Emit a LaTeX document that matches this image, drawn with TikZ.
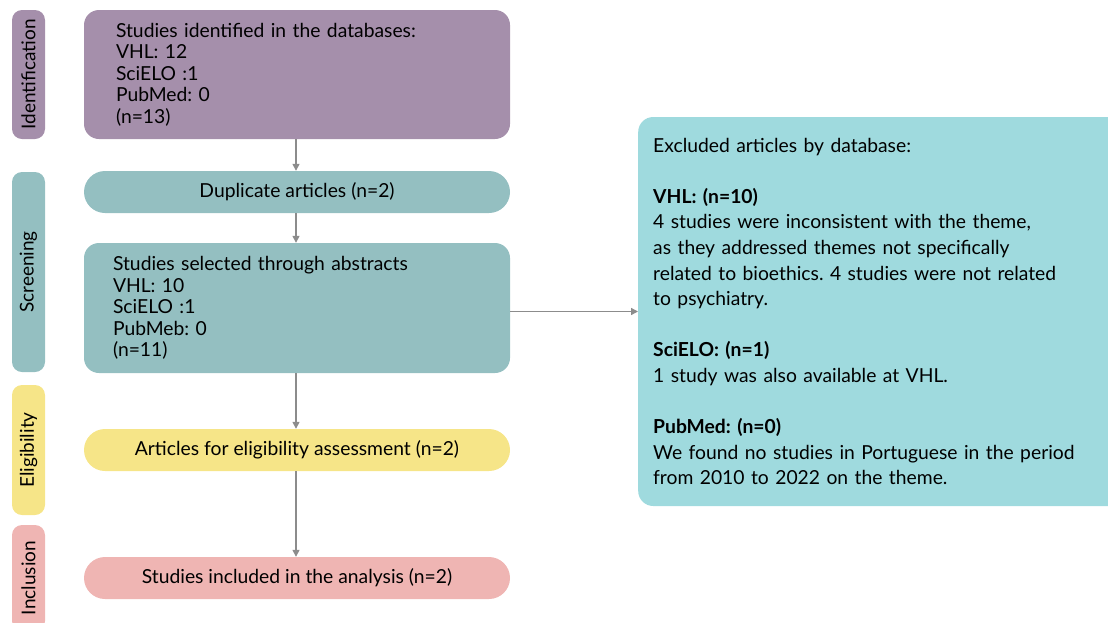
\documentclass[tikz,border=0pt]{standalone}
\usepackage{fontspec}
\setmainfont{Lato}
\frenchspacing
\usetikzlibrary{arrows.meta,calc}
\definecolor{cPurple}{HTML}{A58FAB}
\definecolor{cTeal}{HTML}{94BFC1}
\definecolor{cYellow}{HTML}{F6E588}
\definecolor{cPink}{HTML}{EFB5B3}
\definecolor{cCyan}{HTML}{9FDADE}
\definecolor{cArrow}{HTML}{8C8C8C}
\tikzset{
  sidelabel/.style={draw=none, rounded corners=10pt, rotate=90, minimum height=33pt,
    inner sep=0pt, font=\fontsize{19}{22}\selectfont, text=black},
  bigbox/.style={draw=none, rounded corners=15pt, minimum width=426pt, inner xsep=32pt,
    text width=362pt, align=left, font=\fontsize{19.3}{21.5}\selectfont, text=black},
  pill/.style={draw=none, rounded corners=21pt, minimum width=426pt, minimum height=42pt,
    inner sep=0pt, font=\fontsize{19.3}{22}\selectfont, text=black},
  conn/.style={draw=cArrow, line width=1.3pt, -{Triangle[length=7pt,width=7pt]}},
}
\begin{document}
\begin{tikzpicture}[x=1pt,y=-1pt]
\useasboundingbox (0,0) rectangle (1108,622);
% side labels
\node[sidelabel, fill=cPurple, minimum width=129pt] (sid) at (28.5,74.5) {Identification};
\node[sidelabel, fill=cTeal, minimum width=200pt] (ssc) at (28.5,272) {Screening};
\node[sidelabel, fill=cYellow, minimum width=130pt] (sel2) at (28.5,450) {Eligibility};
\node[sidelabel, fill=cPink, minimum width=106pt] (sin) at (28.5,578) {Inclusion};
% main boxes
\node[bigbox, fill=cPurple, minimum height=129pt] (ident) at (297,74.5)
  {Studies identified in the databases:\\VHL: 12\\SciELO :1\\PubMed: 0\\(n=13)};
\node[pill, fill=cTeal] (dup) at (297,192) {Duplicate articles (n=2)};
\node[bigbox, fill=cTeal, minimum height=130pt, inner xsep=29pt, text width=368pt] (sel) at (297,308)
  {Studies selected through abstracts\\VHL: 10\\SciELO :1\\PubMeb: 0\\(n=11)};
\node[pill, fill=cYellow] (elig) at (297,450) {Articles for eligibility assessment (n=2)};
\node[pill, fill=cPink] (incl) at (297,578) {Studies included in the analysis (n=2)};
\node[draw=none, fill=cCyan, rounded corners=15pt, anchor=west, minimum width=490pt,
  minimum height=389pt, inner xsep=15pt, text width=460pt, align=left,
  font=\fontsize{19.3}{25.6}\selectfont] (exc) at (638,311.5)
  {Excluded articles by database:\\[25.6pt]
   \textbf{VHL: (n=10)}\\
   4 studies were inconsistent with the theme,\\
   as they addressed themes not specifically\\
   related to bioethics. 4 studies were not related\\
   to psychiatry.\\[25.6pt]
   \textbf{SciELO: (n=1)}\\
   1 study was also available at VHL.\\[25.6pt]
   \textbf{PubMed: (n=0)}\\
   We found no studies in Portuguese in the period\\
   from 2010 to 2022 on the theme.};
% connectors
\draw[conn] (ident.south -| 296,0) -- (dup.north -| 296,0);
\draw[conn] (dup.south -| 296,0) -- (sel.north -| 296,0);
\draw[conn] (sel.south -| 296,0) -- (elig.north -| 296,0);
\draw[conn] (elig.south -| 296,0) -- (incl.north -| 296,0);
\draw[conn] (sel.east |- exc.west) -- (exc.west);
\end{tikzpicture}
\end{document}
